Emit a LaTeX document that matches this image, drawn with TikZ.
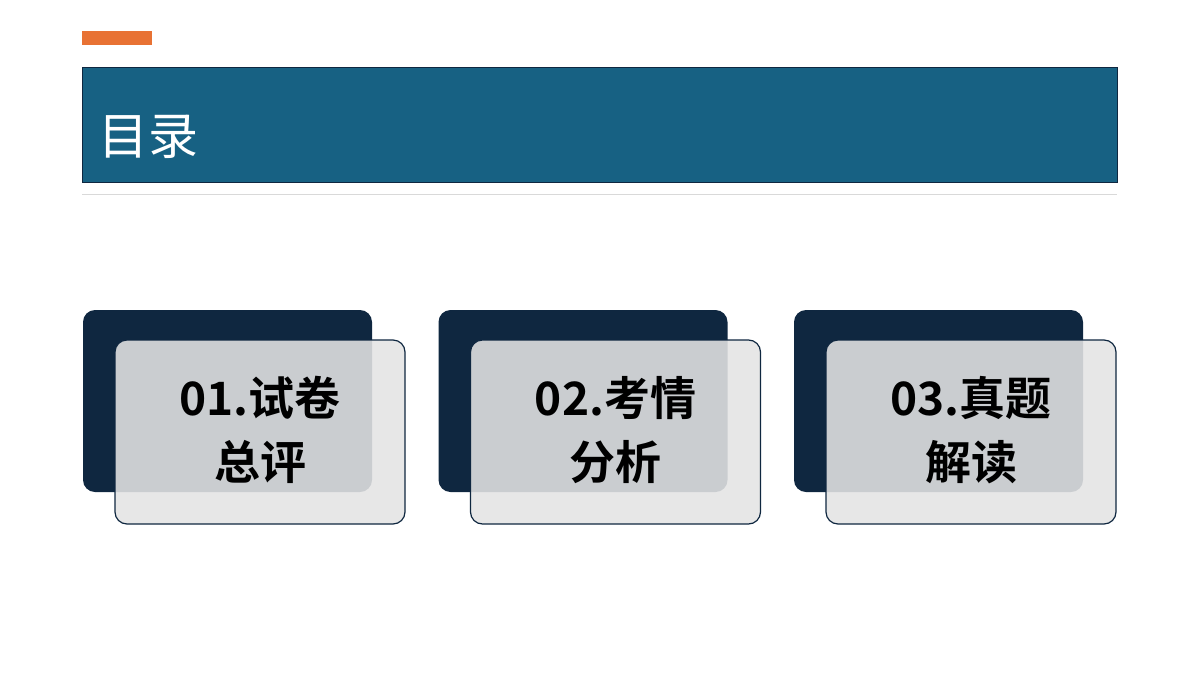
\documentclass[tikz,border=0pt]{standalone}
\usepackage{fontspec}
\newfontfamily\cjk{Noto Sans CJK SC}
\newfontfamily\cjkb{Noto Sans CJK SC Bold}
\definecolor{hdr}{HTML}{176183}
\definecolor{navy}{HTML}{0F2740}
\definecolor{org}{HTML}{E87234}
\definecolor{card}{HTML}{E4E4E4}
\tikzset{
 back/.style={fill=navy,rounded corners=12pt},
 front/.style={fill=card,fill opacity=0.88,draw=navy,line width=1.2pt,rounded corners=12pt},
 lbl/.style={font=\cjkb\fontsize{46}{64}\selectfont,align=center,text=black}
}
\begin{document}
\begin{tikzpicture}[x=1pt,y=-1pt]
\useasboundingbox (0,0) rectangle (1200,675);
\fill[org] (82,31) rectangle (152,45);
\node[draw=navy,line width=1pt,fill=hdr,minimum width=1035pt,minimum height=115pt,anchor=north west,inner sep=0pt] (hdr) at (82,67) {};
\node[anchor=west,text=white,font=\cjk\fontsize{50}{60}\selectfont] (title) at (95,137) {目录};
\draw[gray!30,line width=0.8pt] (82,194) -- (1117,194);
\foreach \i/\t/\s in {0/01.试卷/总评,1/02.考情/分析,2/03.真题/解读}{
 \begin{scope}[xshift=\i*355.5pt]
 \fill[back] (83,310) rectangle (372,492);
 \filldraw[front] (115,340) rectangle (405,524);
 \node[lbl] (c\i) at (260,430) {\t\\\s};
 \end{scope}
}
\end{tikzpicture}
\end{document}
